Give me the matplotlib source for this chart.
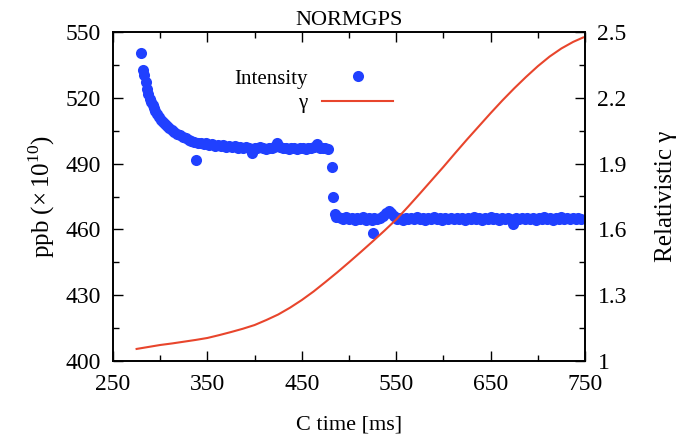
import matplotlib
matplotlib.use("Agg")
import matplotlib.pyplot as plt

plt.rcParams['font.family'] = ['Liberation Serif', 'DejaVu Serif']
plt.rcParams['mathtext.fontset'] = 'custom'
plt.rcParams['mathtext.rm'] = 'Liberation Serif'

# Intensity data (C time [ms], ppb x1e10)
time_ms = [279.5, 281.5, 283, 284.5, 286, 287.5, 289, 290.5, 292, 293.5, 295, 297, 299, 301, 303, 305, 307, 309,
           312, 315, 318, 321, 324, 327, 330, 333, 336, 338,
           340, 343, 346, 349, 352, 355, 358, 361, 364, 367, 370, 373, 376, 379, 382, 385, 388, 391, 394, 397,
           400, 403, 406, 409, 412, 415, 418, 421, 424, 427, 430, 433, 436, 439, 442, 445, 448, 451, 454, 457,
           460, 463, 466, 469, 472, 475, 478,
           481.5, 483, 485, 486.5,
           488, 491, 494, 497, 500, 503, 506, 509, 512, 515, 518, 521, 524, 525, 527, 530, 533, 536, 539, 542,
           545, 548, 551, 554, 557, 560, 563, 566, 569, 572, 575, 578, 581, 584, 587, 590, 593, 596, 599, 602,
           605, 608, 611, 614, 617, 620, 623, 626, 629, 632, 635, 638, 641, 644, 647, 650, 653, 656, 659, 662,
           665, 668, 671, 674, 677, 680, 683, 686, 689, 692, 695, 698, 701, 704, 707, 710, 713, 716, 719, 722,
           725, 728, 731, 734, 737, 740, 743, 746]
intensity = [540.6, 532.8, 530.2, 527.4, 524.2, 521.6, 519.6, 518.0, 516.5, 515.2, 514.0, 512.5, 511.2, 510.1,
             509.0, 508.0, 507.1, 506.3, 505.3, 504.4, 503.6, 502.9, 502.1, 501.6, 500.9, 500.5, 500.0, 491.6,
             499.6, 499.2, 498.8, 499.5, 498.4, 498.9, 498.1, 498.6, 497.9, 498.3, 497.6, 498.0, 497.4, 497.9,
             497.2, 497.6, 497.0, 497.5, 497.1, 494.8, 497.3, 496.9, 497.4, 497.0, 496.8, 497.3, 497.1, 497.6,
             499.2, 497.5, 496.9, 497.2, 496.8, 497.3, 497.0, 496.7, 497.2, 497.0, 496.8, 497.3, 496.9, 497.4,
             498.8, 497.2, 496.9, 497.1, 496.7,
             488.6, 474.9, 466.8, 465.6,
             465.8, 465.2, 464.6, 465.5, 464.9, 465.3, 464.4, 465.1, 464.7, 465.6, 464.5, 465.0, 464.3, 458.2,
             465.4, 464.8, 465.2, 466.1, 467.3, 468.4, 467.6, 465.9, 464.6, 465.1, 464.3, 465.4, 464.9, 465.2,
             464.6, 465.5, 464.8, 465.0, 464.4, 465.3, 464.9, 465.6, 464.7, 465.1, 464.5, 465.2, 464.8, 465.4,
             464.6, 465.0, 464.7, 465.3, 464.5, 465.1, 464.9, 465.5, 464.6, 465.0, 464.4, 465.2, 464.8, 465.6,
             464.7, 465.1, 464.5, 465.3, 464.9, 465.0, 464.6, 462.6, 465.2, 464.8, 465.4, 464.6, 465.0, 464.7,
             465.3, 464.5, 465.1, 464.9, 465.5, 464.7, 465.0, 464.4, 465.2, 464.8, 465.6, 464.6, 465.1, 464.7,
             465.3, 464.8, 465.0, 464.6]

# Relativistic gamma
gamma_time = [275, 287.5, 300, 312.5, 325, 337.5, 350, 362.5, 375, 387.5, 400, 412.5, 425, 437.5, 450, 462.5,
              475, 487.5, 500, 512.5, 525, 537.5, 550, 562.5, 575, 587.5, 600, 612.5, 625, 637.5, 650, 662.5,
              675, 687.5, 700, 712.5, 725, 737.5, 748]
gamma = [1.055, 1.064, 1.073, 1.080, 1.088, 1.096, 1.105, 1.118, 1.132, 1.147, 1.164, 1.187, 1.212, 1.243,
         1.278, 1.317, 1.360, 1.404, 1.450, 1.497, 1.545, 1.594, 1.645, 1.703, 1.763, 1.824, 1.885, 1.948,
         2.010, 2.070, 2.130, 2.188, 2.243, 2.295, 2.344, 2.388, 2.425, 2.455, 2.475]

x_ticks = [250, 350, 450, 550, 650, 750]
x_minor = [300, 400, 500, 600, 700]
y_ticks = [400, 430, 460, 490, 520, 550]
y_minor = [415, 445, 475, 505, 535]
g_ticks = [1, 1.3, 1.6, 1.9, 2.2, 2.5]
g_labels = ['1', '1.3', '1.6', '1.9', '2.2', '2.5']
g_minor = [1.15, 1.45, 1.75, 2.05, 2.35]

fig = plt.figure(figsize=(6.8, 4.37), dpi=100)
ax = fig.add_axes([113/680, 76/437, 472/680, 329/437])
ax2 = ax.twinx()

blue = '#2040ff'
red = '#e8452c'

ln_int, = ax.plot(time_ms, intensity, 'o', color=blue, markersize=8, markeredgewidth=0, label='Intensity')
ln_g, = ax2.plot(gamma_time, gamma, '-', color=red, linewidth=1.5, label='γ')

ax.set_xlim(250, 750)
ax.set_ylim(400, 550)
ax2.set_ylim(1, 2.5)

ax.set_xticks(x_ticks)
ax.set_xticks(x_minor, minor=True)
ax.set_yticks(y_ticks)
ax.set_yticks(y_minor, minor=True)
ax2.set_yticks(g_ticks)
ax2.set_yticklabels(g_labels)
ax2.set_yticks(g_minor, minor=True)

fs = 17
ax.tick_params(axis='x', which='both', direction='in', top=True, labelsize=fs, pad=9)
ax.tick_params(axis='y', which='both', direction='in', left=True, right=False, labelsize=fs, pad=9)
ax.tick_params(which='major', length=7, width=1)
ax.tick_params(which='minor', length=4, width=1)
ax2.tick_params(axis='y', which='both', direction='in', labelsize=fs, pad=9)
ax2.tick_params(which='major', length=7, width=1)
ax2.tick_params(which='minor', length=4, width=1)

for a in (ax, ax2):
    for s in a.spines.values():
        s.set_linewidth(1.2)
        s.set_color('black')

ax.set_xlabel('C time [ms]', fontsize=16, labelpad=15)
ax.set_ylabel(r'ppb ($\times\,10^{10}$)', fontsize=18, labelpad=6)
ax2.set_ylabel('Relativistic γ', fontsize=18, labelpad=20)
ax.set_title('NORMGPS', fontsize=16, pad=5)

leg = ax.legend([ln_int, ln_g], ['Intensity', 'γ'], loc='upper right',
                bbox_to_anchor=(393/680, (437-69)/437), bbox_transform=fig.transFigure,
                frameon=False, markerfirst=False, fontsize=15, handlelength=3.4,
                handletextpad=0.7, borderpad=0, labelspacing=0.25, borderaxespad=0)

fig.savefig('out.png', dpi=100)
